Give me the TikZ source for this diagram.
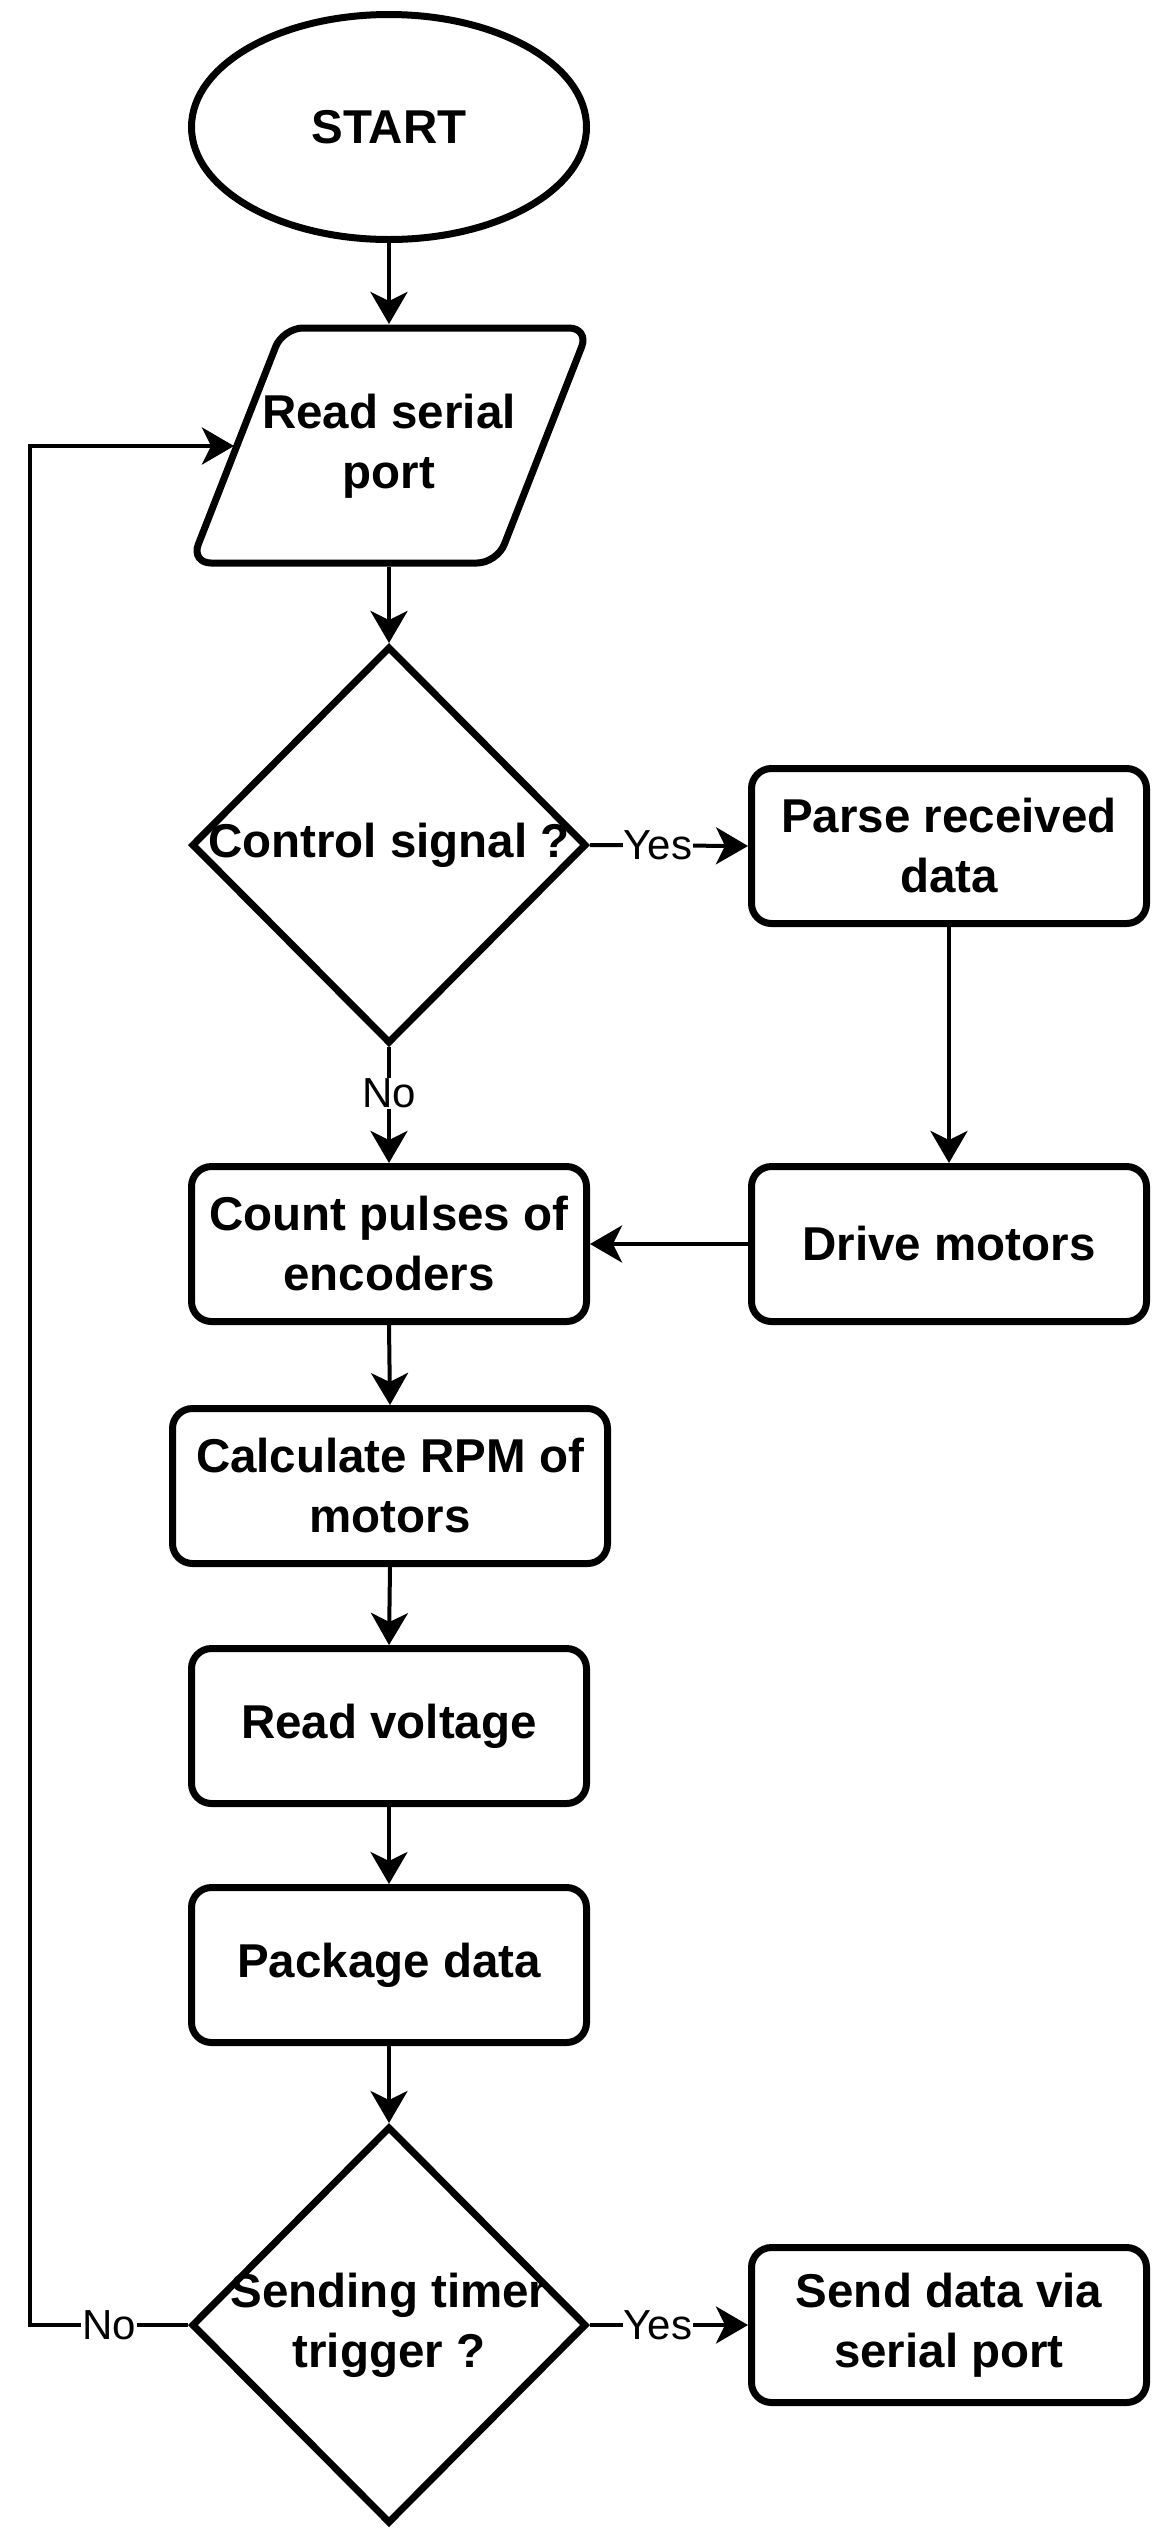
\documentclass[tikz,border=0pt]{standalone}
\usepackage{fontspec}
\setmainfont{Liberation Sans}
\usetikzlibrary{shapes.geometric,arrows.meta}
\begin{document}
\begin{tikzpicture}[x=1pt,y=-1pt,
  shp/.style={draw, line width=7pt, inner sep=0pt},
  txt/.style={align=center, inner sep=0pt, font=\bfseries\fontsize{47.5}{60}\selectfont},
  box/.style={shp, txt, rounded corners=20pt, minimum width=395pt, minimum height=155pt},
  dia/.style={shp, diamond, minimum width=395pt, minimum height=397pt},
  conn/.style={line width=4pt, -{Stealth[length=32pt,width=37pt,inset=9pt]}},
  lbl/.style={fill=white, inner sep=1pt, font=\fontsize{42}{48}\selectfont}
]
\useasboundingbox (0,0) rectangle (1156,2528);

% shapes
\node[shp, txt, ellipse, minimum width=395pt, minimum height=225pt] (start) at (389,127) {START};

\draw[line width=7pt, rounded corners=20pt] (283,328) -- (589,328) -- (497,563) -- (191,563) -- cycle;
\node[txt] (read) at (389,446) {Read serial\\port};
\coordinate (readN) at (389,324);
\coordinate (readS) at (389,567);
\coordinate (readW) at (234,446);

\node[dia] (dec1) at (389,845) {};
\node[txt] (dec1t) at (dec1.center) {Control signal ?};

\node[box] (parse) at (949,846) {Parse received\\data};
\node[box] (drive) at (949,1244) {Drive motors};
\node[box] (count) at (389,1244) {Count pulses of\\encoders};
\node[box, minimum width=435pt] (rpm) at (390,1486) {Calculate RPM of\\motors};
\node[box] (volt) at (389,1726) {Read voltage};
\node[box] (pkg) at (389,1965) {Package data};

\node[dia] (dec2) at (389,2325) {};
\node[txt] (dec2t) at (dec2.center) {Sending timer\\trigger ?};

\node[box] (send) at (949,2325) {Send data via\\serial port};

\coordinate (loopB) at (30,2325);
\coordinate (loopT) at (30,446);

% connectors
\draw[conn] (start.south) -- (readN);
\draw[conn] (readS) -- (dec1.north);
\draw[conn] (dec1.east) -- node[lbl, pos=0.43] {Yes} (parse.west);
\draw[conn] (dec1.south) -- node[lbl, pos=0.4] {No} (count.north);
\draw[conn] (parse.south) -- (drive.north);
\draw[conn] (drive.west) -- (count.east);
\draw[conn] (count.south) -- (rpm.north);
\draw[conn] (rpm.south) -- (volt.north);
\draw[conn] (volt.south) -- (pkg.north);
\draw[conn] (pkg.south) -- (dec2.north);
\draw[conn] (dec2.east) -- node[lbl, pos=0.43] {Yes} (send.west);
\draw[conn, rounded corners=0pt] (dec2.west) -- node[lbl, pos=0.5] {No} (loopB) -- (loopT) -- (readW);
\end{tikzpicture}
\end{document}
